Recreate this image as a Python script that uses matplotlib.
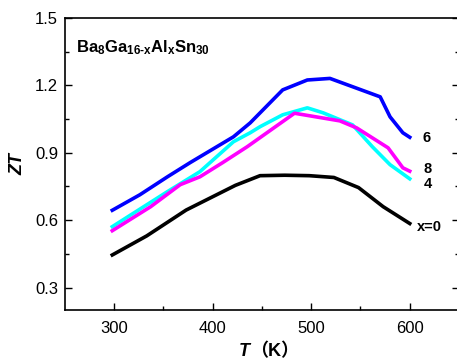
import numpy as np
import matplotlib
matplotlib.use('Agg')
import matplotlib.pyplot as plt
from matplotlib.ticker import MultipleLocator, FormatStrFormatter

plt.rcParams['font.family'] = ['Liberation Sans', 'Noto Sans CJK SC']
plt.rcParams['mathtext.fontset'] = 'custom'
plt.rcParams['mathtext.rm'] = 'Liberation Sans:bold'
plt.rcParams['mathtext.bf'] = 'Liberation Sans:bold'
plt.rcParams['mathtext.it'] = 'Liberation Sans:bold:italic'

# x = 0
T0 = [298, 333, 373, 423, 448, 473, 498, 523, 548, 573, 600]
zt0 = [0.445, 0.53, 0.645, 0.755, 0.798, 0.80, 0.798, 0.79, 0.745, 0.66, 0.585]
# x = 6
T6 = [298, 326, 354, 377, 421, 438, 471, 496, 519, 570, 580, 593, 600]
zt6 = [0.644, 0.713, 0.793, 0.856, 0.971, 1.033, 1.18, 1.224, 1.231, 1.149, 1.06, 0.989, 0.969]
# x = 4
T4 = [298, 354, 387, 421, 438, 448, 471, 496, 512, 542, 562, 580, 600]
zt4 = [0.571, 0.727, 0.816, 0.949, 0.989, 1.016, 1.069, 1.10, 1.078, 1.024, 0.927, 0.847, 0.784]
# x = 8
T8 = [298, 337, 367, 387, 410, 435, 483, 529, 546, 578, 593, 600]
zt8 = [0.553, 0.66, 0.758, 0.793, 0.856, 0.927, 1.076, 1.042, 1.011, 0.922, 0.833, 0.818]

fig = plt.figure(figsize=(4.57, 3.6), dpi=100)
ax = fig.add_axes([65/457, 50/360, (459-65)/457, (310-18)/360])

lw = 2.6
ax.plot(T0, zt0, color='black', lw=lw)
ax.plot(T6, zt6, color='#0000ff', lw=lw)
ax.plot(T4, zt4, color='#00ffff', lw=lw)
ax.plot(T8, zt8, color='#ff00ff', lw=lw)

ax.set_xlim(250, 650)
ax.set_ylim(0.2, 1.5)
ax.set_xticks([300, 400, 500, 600])
ax.set_xticks([350, 450, 550], minor=True)
ax.yaxis.set_major_locator(MultipleLocator(0.3))
ax.yaxis.set_minor_locator(MultipleLocator(0.15))
ax.yaxis.set_major_formatter(FormatStrFormatter('%.1f'))
ax.tick_params(which='both', direction='in', top=False, right=True, labelsize=12, width=1)
ax.tick_params(which='major', length=5)
ax.tick_params(which='minor', length=3)
ax.tick_params(axis='x', pad=8)
ax.tick_params(axis='y', pad=5)
for s in ax.spines.values():
    s.set_linewidth(1.2)

ax.text(261, 1.367, r'$\mathrm{Ba_8Ga_{16\text{-}x}Al_xSn_{30}}$', fontsize=12, va='center', ha='left')

lab_kw = dict(fontsize=10.5, fontweight='bold', va='center', ha='left')
ax.text(613, 0.967, '6', **lab_kw)
ax.text(614, 0.826, '8', **lab_kw)
ax.text(614, 0.762, '4', **lab_kw)
ax.text(607, 0.571, 'x=0', **lab_kw)

ax.set_ylabel('ZT', fontsize=13, fontweight='bold', fontstyle='italic', labelpad=6)
fig.text(250/457, 1 - 352/360, 'T', fontsize=13, fontweight='bold', fontstyle='italic', ha='right', va='center')
fig.text(250/457, 1 - 352/360, '（K）', fontsize=13, fontweight='bold', ha='left', va='center')

fig.savefig('out.png', dpi=100)
